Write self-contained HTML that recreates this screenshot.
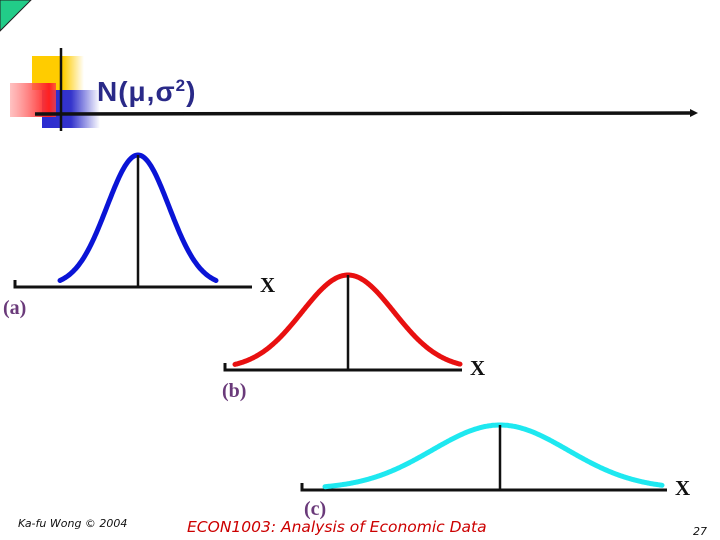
<!DOCTYPE html>
<html><head><meta charset="utf-8"><style>
html,body{margin:0;padding:0;background:#fff;}
svg{display:block;}
</style></head><body>
<svg width="720" height="540" viewBox="0 0 720 540" xmlns="http://www.w3.org/2000/svg">
<defs>
<linearGradient id="rg" x1="0" x2="1"><stop offset="0" stop-color="#ff9999" stop-opacity="0.6"/><stop offset="0.85" stop-color="#ff2020"/><stop offset="1" stop-color="#ff4040" stop-opacity="0.8"/></linearGradient>
<linearGradient id="bg" x1="0" x2="1"><stop offset="0" stop-color="#2b2bd0"/><stop offset="0.5" stop-color="#3434cc"/><stop offset="1" stop-color="#3434cc" stop-opacity="0"/></linearGradient>
<linearGradient id="yg" x1="0" x2="1"><stop offset="0" stop-color="#ffcc00"/><stop offset="0.6" stop-color="#ffcc00"/><stop offset="1" stop-color="#ffcc00" stop-opacity="0"/></linearGradient>
</defs>
<polygon points="0,0 31,0 0,31" fill="#22cc88" stroke="#222" stroke-width="1"/>
<g>
<rect x="32" y="56" width="52" height="34" fill="url(#yg)"/>
<rect x="42" y="90" width="58" height="38" fill="url(#bg)"/>
<rect x="10" y="83" width="46" height="34" fill="url(#rg)"/>
<line x1="61" y1="48" x2="61" y2="131" stroke="#111" stroke-width="2.5"/>
<line x1="35" y1="114" x2="690" y2="113" stroke="#111" stroke-width="3.5"/>
<polygon points="690,109 698,113 690,117" fill="#111"/>
</g>
<text x="97" y="101" font-family="Liberation Sans, sans-serif" font-weight="bold" font-size="28" letter-spacing="1" fill="#2a2a88">N(μ,σ<tspan font-size="17" dy="-10">2</tspan><tspan dy="10">)</tspan></text>
<g id="charts"></g>
<text x="3" y="314" font-family="Liberation Serif, serif" font-weight="bold" font-size="20" fill="#6a3a7a">(a)</text>
<text x="222" y="397" font-family="Liberation Serif, serif" font-weight="bold" font-size="20" fill="#6a3a7a">(b)</text>
<text x="304" y="515" font-family="Liberation Serif, serif" font-weight="bold" font-size="20" fill="#6a3a7a">(c)</text>
<text x="18" y="527" font-family="DejaVu Sans, sans-serif" font-style="italic" font-size="11" fill="#111">Ka-fu Wong © 2004</text>
<text x="187" y="532" font-family="DejaVu Sans, sans-serif" font-style="italic" font-size="15.5" fill="#cc0000">ECON1003: Analysis of Economic Data</text>
<text x="693" y="535" font-family="DejaVu Sans, sans-serif" font-style="italic" font-size="11" fill="#111">27</text>
</svg>
<script>
const panelNames = ["a", "b", "c"];
const means = [138, 348, 500];
const sigmas = [31, 46, 68];
const peaks = [131, 94, 64];
const colors = ["#0a14d6", "#e81010", "#1ee8f0"];
const axisY = [287, 370, 490];
const axisLeft = [15, 225, 302];
const axisRight = [252, 462, 667];
const curveLeft = [60, 235, 325];
const curveRight = [216, 460, 662];
const NS = "http://www.w3.org/2000/svg";
const g = document.getElementById("charts");
function mk(tag, attrs){const e=document.createElementNS(NS,tag);for(const k in attrs)e.setAttribute(k,attrs[k]);g.appendChild(e);return e;}
function yOf(i,x){return axisY[i]-1-peaks[i]*Math.exp(-Math.pow(x-means[i],2)/(2*sigmas[i]*sigmas[i]));}
for(let i=0;i<3;i++){
  const ax=mk("path",{d:`M${axisLeft[i]},${axisY[i]-7} L${axisLeft[i]},${axisY[i]} L${axisRight[i]},${axisY[i]}`,fill:"none",stroke:"#111","stroke-width":3});
  
  
  let d="";
  for(let x=curveLeft[i];x<=curveRight[i];x+=1){d+=(d?" L":"M")+x+","+yOf(i,x).toFixed(1);}
  const c=mk("path",{d:d,fill:"none",stroke:colors[i],"stroke-width":5,"stroke-linecap":"round"});
  
  
  const m=mk("line",{x1:means[i],x2:means[i],y1:yOf(i,means[i]),y2:axisY[i],stroke:"#111","stroke-width":2.5});
  
  
  const t=mk("text",{x:axisRight[i]+8,y:axisY[i]+5,"font-family":"Liberation Serif, serif","font-weight":"bold","font-size":"21",fill:"#111"});
  t.textContent="X";
  
  
}
</script>
</body></html>
